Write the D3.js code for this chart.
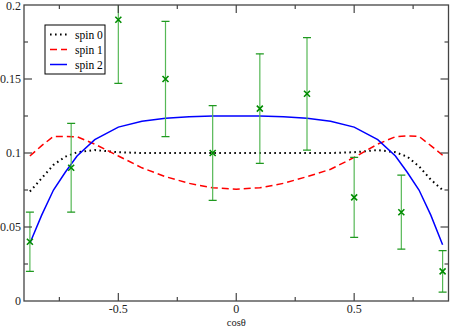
<!DOCTYPE html>
<html>
<head>
<meta charset="utf-8">
<script src="https://cdn.jsdelivr.net/npm/d3@7"></script>
<style>
  body { margin: 0; background: #fff; }
  svg { display: block; }
  svg text { font-family: "Times New Roman", "Liberation Serif", "DejaVu Serif", serif; }
</style>
</head>
<body>
<div id="container"></div>
<script>
// measured points
const dataX = [-0.875, -0.7, -0.5, -0.3, -0.1, 0.1, 0.3, 0.5, 0.7, 0.875];
const dataY = [0.04, 0.09, 0.19, 0.15, 0.10, 0.13, 0.14, 0.07, 0.06, 0.02];
const dataErr = [0.02, 0.03, 0.043, 0.039, 0.032, 0.037, 0.038, 0.027, 0.025, 0.014];

// model curves
const curveX = [-0.875, -0.825, -0.775, -0.725, -0.675, -0.6, -0.5, -0.4, -0.3, -0.2, -0.1, 0,
  0.1, 0.2, 0.3, 0.4, 0.5, 0.6, 0.675, 0.725, 0.775, 0.825, 0.875];
const spin0 = [0.074, 0.083, 0.092, 0.0975, 0.1005, 0.102, 0.1005, 0.1, 0.1, 0.1, 0.1, 0.1,
  0.1, 0.1, 0.1, 0.1, 0.1005, 0.102, 0.1005, 0.0975, 0.091, 0.082, 0.075];
const spin1 = [0.098, 0.105, 0.1112, 0.1112, 0.111, 0.106, 0.098, 0.09, 0.084, 0.0795, 0.0765, 0.0755,
  0.0765, 0.0795, 0.084, 0.089, 0.097, 0.106, 0.111, 0.1115, 0.1112, 0.105, 0.0985];
const spin2 = [0.039, 0.058, 0.075, 0.087, 0.098, 0.109, 0.1175, 0.1215, 0.1235, 0.1245, 0.125, 0.125,
  0.125, 0.1245, 0.1235, 0.1215, 0.1175, 0.109, 0.098, 0.087, 0.075, 0.058, 0.038];

const xTicks = [-0.5, 0, 0.5];
const yTicks = [0, 0.05, 0.1, 0.15, 0.2];
const legendNames = ['spin 0', 'spin 1', 'spin 2'];

const width = 450;
const height = 326;
const margin = { top: 5, right: 1.5, bottom: 25, left: 24 };

const x = d3.scaleLinear().domain([-0.9, 0.9]).range([margin.left, width - margin.right]);
const y = d3.scaleLinear().domain([0, 0.2]).range([height - margin.bottom, margin.top]);

const svg = d3.select('#container')
  .append('svg')
  .attr('width', width)
  .attr('height', height);

svg.append('clipPath').attr('id', 'clip')
  .append('rect')
  .attr('x', x(-0.9)).attr('y', y(0.2))
  .attr('width', x(0.9) - x(-0.9)).attr('height', y(0) - y(0.2));

const plot = svg.append('g').attr('clip-path', 'url(#clip)');

// curves
const line = d3.line().x((d, i) => x(curveX[i])).y(d => y(d));
const styles = [
  { data: spin0, color: '#000', width: 2, dash: '1.6,3.4' },
  { data: spin1, color: '#ff0000', width: 1.5, dash: '7,4' },
  { data: spin2, color: '#0000ff', width: 1.5, dash: null }
];
styles.forEach(s => {
  plot.append('path')
    .attr('d', line(s.data))
    .attr('fill', 'none')
    .attr('stroke', s.color)
    .attr('stroke-width', s.width)
    .attr('stroke-dasharray', s.dash);
});

// error bars
const pts = plot.selectAll('.pt')
  .data(dataX.map((d, i) => ({ x: d, y: dataY[i], e: dataErr[i] })))
  .enter()
  .append('g')
  .attr('class', 'pt');

pts.append('line')
  .attr('x1', d => x(d.x)).attr('x2', d => x(d.x))
  .attr('y1', d => y(d.y - d.e)).attr('y2', d => y(d.y + d.e))
  .attr('stroke', '#55b855').attr('stroke-width', 1.2);

[-1, 1].forEach(sgn => {
  pts.append('line')
    .attr('x1', d => x(d.x) - 4).attr('x2', d => x(d.x) + 4)
    .attr('y1', d => y(d.y + sgn * d.e)).attr('y2', d => y(d.y + sgn * d.e))
    .attr('stroke', '#1f991f').attr('stroke-width', 1.3);
});

pts.append('path')
  .attr('d', d => {
    const cx = x(d.x), cy = y(d.y), r = 3;
    return `M${cx - r},${cy - r}L${cx + r},${cy + r}M${cx - r},${cy + r}L${cx + r},${cy - r}`;
  })
  .attr('stroke', '#008c00').attr('stroke-width', 1.6).attr('fill', 'none');

// frame and ticks (inward, all four sides)
const frameColor = '#444';
svg.append('rect')
  .attr('x', x(-0.9)).attr('y', y(0.2))
  .attr('width', x(0.9) - x(-0.9)).attr('height', y(0) - y(0.2))
  .attr('fill', 'none').attr('stroke', frameColor).attr('stroke-width', 1.3);

const xMinor = d3.range(-0.75, 0.76, 0.25);
const yMinor = d3.range(0.025, 0.2, 0.025);
const tickG = svg.append('g').attr('stroke', frameColor).attr('stroke-width', 1.2);
xMinor.forEach(v => {
  const major = Math.abs(v * 2 - Math.round(v * 2)) < 1e-6;
  const len = major ? 8 : 4;
  tickG.append('line').attr('x1', x(v)).attr('x2', x(v)).attr('y1', y(0)).attr('y2', y(0) - len);
  tickG.append('line').attr('x1', x(v)).attr('x2', x(v)).attr('y1', y(0.2)).attr('y2', y(0.2) + len);
});
yMinor.forEach(v => {
  const major = Math.abs(v * 20 - Math.round(v * 20)) < 1e-6;
  const len = major ? 8 : 4;
  tickG.append('line').attr('y1', y(v)).attr('y2', y(v)).attr('x1', x(-0.9)).attr('x2', x(-0.9) + len);
  tickG.append('line').attr('y1', y(v)).attr('y2', y(v)).attr('x1', x(0.9)).attr('x2', x(0.9) - len);
});

// tick labels
svg.selectAll('.xl').data(xTicks).enter().append('text')
  .attr('x', d => x(d)).attr('y', y(0) + 12)
  .attr('text-anchor', 'middle').attr('font-size', 12).attr('fill', '#222')
  .text(d => d === 0 ? '0' : d3.format('.1f')(d).replace('−', '-'));

svg.selectAll('.yl').data(yTicks).enter().append('text')
  .attr('x', x(-0.9) - 3).attr('y', d => Math.max(y(d) + 4, 10))
  .attr('text-anchor', 'end').attr('font-size', 12).attr('fill', '#222')
  .text(d => d === 0 ? '0' : String(d));

svg.append('text')
  .attr('x', x(0)).attr('y', 325.5)
  .attr('text-anchor', 'middle').attr('font-size', 10.5).attr('fill', '#222')
  .text('cosθ');

// legend
const leg = svg.append('g').attr('transform', 'translate(45,25)');
leg.append('rect').attr('width', 60).attr('height', 49)
  .attr('fill', '#fff').attr('stroke', '#000').attr('stroke-width', 1);
styles.forEach((s, i) => {
  const ly = 9.5 + i * 15;
  leg.append('line')
    .attr('x1', 5).attr('x2', 22).attr('y1', ly).attr('y2', ly)
    .attr('stroke', s.color).attr('stroke-width', s.width)
    .attr('stroke-dasharray', s.dash);
  leg.append('text')
    .attr('x', 30).attr('y', ly + 4)
    .attr('font-size', 11.5).attr('fill', '#000')
    .text(legendNames[i]);
});
</script>
</body>
</html>
